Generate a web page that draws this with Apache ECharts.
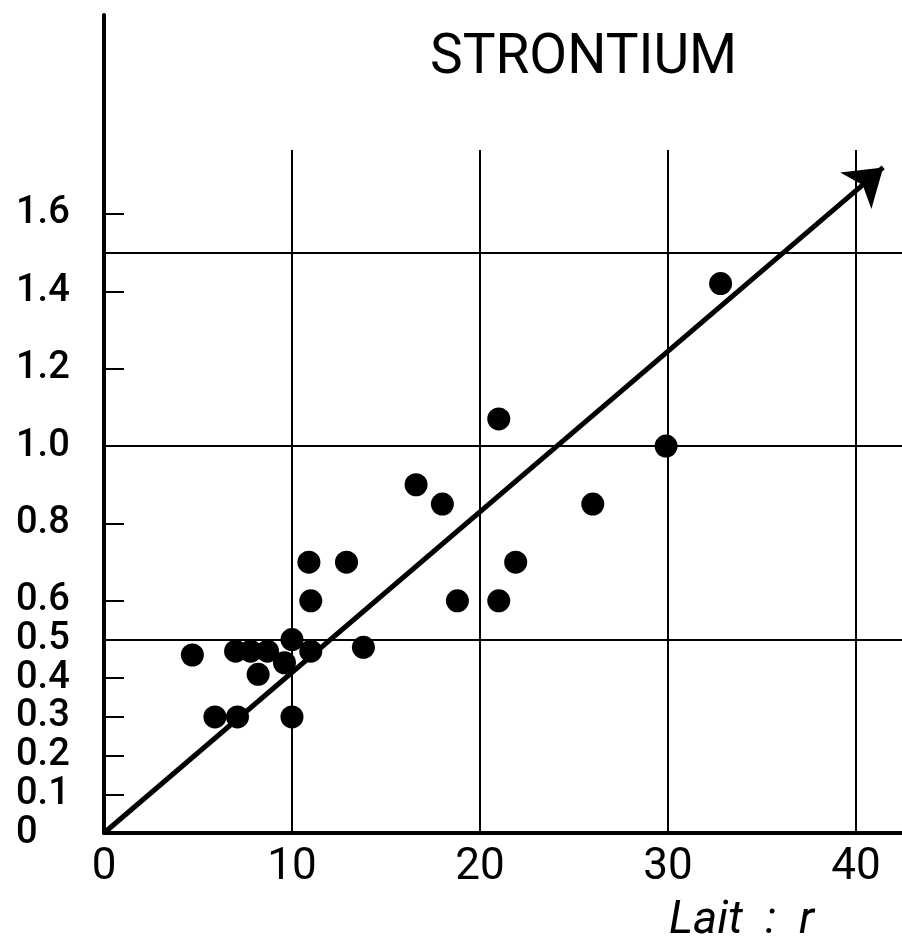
<!DOCTYPE html>
<html>
<head>
<meta charset="utf-8">
<title>Strontium</title>
<script src="https://cdn.jsdelivr.net/npm/echarts@6/dist/echarts.min.js"></script>
<style>
  html, body { margin: 0; padding: 0; background: #fff; }
  #chart { width: 902px; height: 944px; }
</style>
</head>
<body>
<div id="chart"></div>
<script>
// points: x = lait (r), y = strontium
const laitValues = [4.7, 5.9, 7.0, 7.1, 7.8, 8.7, 8.2, 9.6, 10.0, 10.0, 11.0, 11.0, 10.9, 12.9, 13.8, 16.6, 18.0, 18.8, 21.0, 21.0, 21.9, 26.0, 29.9, 32.8]
const srValues = [0.46, 0.30, 0.47, 0.30, 0.47, 0.47, 0.41, 0.44, 0.50, 0.30, 0.47, 0.60, 0.70, 0.70, 0.48, 0.90, 0.85, 0.60, 0.60, 1.07, 0.70, 0.85, 1.00, 1.42]
const xTicks = [0, 10, 20, 30, 40]
const yTicks = [0, 0.1, 0.2, 0.3, 0.4, 0.5, 0.6, 0.8, 1.0, 1.2, 1.4, 1.6]
// the arrow drawn through the cloud
const trendStart = [0, 0]
const trendEnd = [41.45, 1.72]

const points = laitValues.map((x, i) => [x, srValues[i]])

const X_MAX = 42.45 // right edge of the page
const X_GRID_MAX = 40 // vertical rules stop at 40
const PX_PER_X = 18.8
const Y_MAX = 2.114
const black = '#000'
const font = 'Roboto, "DejaVu Sans", sans-serif'

const chart = echarts.init(document.getElementById('chart'), null, { renderer: 'canvas' })

const option = {
  backgroundColor: '#fff',
  animation: false,
  title: [
    {
      text: 'STRONTIUM',
      left: 425,
      top: 27,
      textStyle: { fontFamily: font, fontSize: 55, fontWeight: 'normal', color: black }
    },
    {
      text: 'Lait  :  r',
      left: 664,
      top: 893,
      textStyle: { fontFamily: font, fontSize: 46, fontStyle: 'italic', fontWeight: 'normal', color: black }
    }
  ],
  grid: [
    // main axes
    { left: 104, right: 0, top: 15, bottom: 111 },
    // vertical grid lines (they stop below the title)
    { left: 104, width: X_GRID_MAX * PX_PER_X, top: 150, bottom: 111 },
    // horizontal grid lines at 0.5, 1.0, 1.5
    { left: 104, right: 0, top: 252.5, bottom: 111 }
  ],
  xAxis: [
    {
      gridIndex: 0,
      type: 'value',
      min: 0,
      max: X_MAX,
      axisLine: { show: true, onZero: false, lineStyle: { color: black, width: 4 } },
      axisTick: { show: false },
      splitLine: { show: false },
      axisLabel: {
        customValues: xTicks,
        color: black,
        fontFamily: font,
        fontSize: 44,
        margin: 13
      },
      z: 5
    },
    {
      gridIndex: 1,
      type: 'value',
      min: 0,
      max: X_GRID_MAX,
      interval: 10,
      axisLine: { show: false },
      axisTick: { show: false },
      axisLabel: { show: false },
      splitLine: { show: true, lineStyle: { color: black, width: 2 } }
    },
    {
      gridIndex: 2,
      type: 'value',
      min: 0,
      max: X_MAX,
      show: false
    }
  ],
  yAxis: [
    {
      gridIndex: 0,
      type: 'value',
      min: 0,
      max: Y_MAX,
      axisLine: { show: true, onZero: false, lineStyle: { color: black, width: 4 } },
      axisTick: {
        show: true,
        inside: true,
        length: 20,
        customValues: yTicks,
        lineStyle: { color: black, width: 2 }
      },
      splitLine: { show: false },
      axisLabel: {
        customValues: yTicks,
        formatter: v => (v === 0 ? '0' : v.toFixed(1)),
        align: 'left',
        margin: 88,
        padding: [0, 0, 28, 0],
        color: black,
        fontFamily: font,
        fontWeight: 500,
        fontSize: 38
      },
      z: 5
    },
    {
      gridIndex: 1,
      type: 'value',
      min: 0,
      max: 1,
      show: false
    },
    {
      gridIndex: 2,
      type: 'value',
      min: 0,
      max: 1.5,
      interval: 0.5,
      axisLine: { show: false },
      axisTick: { show: false },
      axisLabel: { show: false },
      splitLine: { show: true, lineStyle: { color: black, width: 2 } }
    }
  ],
  series: [
    {
      type: 'line',
      xAxisIndex: 0,
      yAxisIndex: 0,
      data: [],
      silent: true,
      markLine: {
        silent: true,
        symbol: ['none', 'arrow'],
        symbolSize: 36,
        label: { show: false },
        lineStyle: { color: black, width: 5, type: 'solid', opacity: 1 },
        itemStyle: { color: black },
        data: [[{ coord: trendStart }, { coord: trendEnd }]]
      }
    },
    {
      type: 'scatter',
      xAxisIndex: 0,
      yAxisIndex: 0,
      data: points,
      symbol: 'circle',
      symbolSize: 23,
      itemStyle: { color: black, opacity: 1 },
      z: 3
    }
  ]
}

chart.setOption(option)
</script>
</body>
</html>
